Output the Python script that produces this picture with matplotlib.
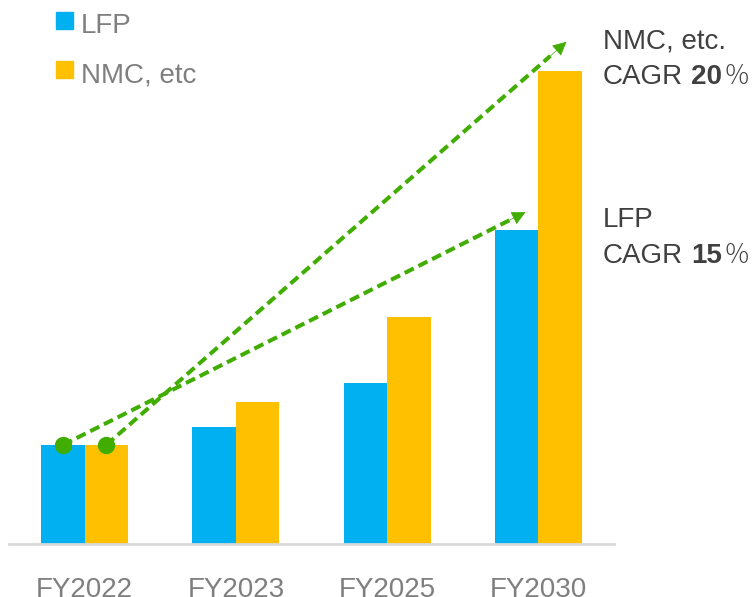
import matplotlib
matplotlib.use('Agg')
import matplotlib.pyplot as plt
from matplotlib.patches import Rectangle
import numpy as np

# -- Data (index, FY2022 = 100) --
years = ['FY2022', 'FY2023', 'FY2025', 'FY2030']
lfp = [100, 118, 163, 317]
nmc = [100, 143, 229, 478]
series_names = ['LFP', 'NMC, etc']
cagr_lfp = '15'
cagr_nmc = '20'

# arrow end points (category position, index value)
lfp_arrow_end = (2.915, 335)
nmc_arrow_end = (3.186, 507)

# -- Styling --
BLUE = '#00B0F0'
ORANGE = '#FFC000'
GREEN = '#40AD00'
GRAY = '#7F7F7F'
DARK = '#404040'
BASE = '#D9D9D9'

plt.rcParams['font.family'] = ['Liberation Sans', 'DejaVu Sans']

fig = plt.figure(figsize=(7.56, 5.97), dpi=100)
ax = fig.add_axes([9 / 756, 53 / 597, 605 / 756, 524 / 597])

x = np.arange(len(years))
w = 0.287
ax.bar(x - w / 2, lfp, w, color=BLUE, zorder=2)
ax.bar(x + w / 2, nmc, w, color=ORANGE, zorder=2)

ax.set_xlim(-0.5, 3.5)
ax.set_ylim(0, 529)
ax.set_xticks(x)
ax.set_xticklabels(years, fontsize=20, color=GRAY)
ax.tick_params(axis='x', length=0, pad=23.5)
ax.set_yticks([])
for s in ['top', 'right', 'left']:
    ax.spines[s].set_visible(False)
ax.spines['bottom'].set_color(BASE)
ax.spines['bottom'].set_linewidth(2)


def growth_arrow(x0, y0, end):
    x1, y1 = end
    back = (x1 - 0.035 * (x1 - x0), y1 - 0.035 * (y1 - y0))
    ax.plot([x0, back[0]], [y0, back[1]], color=GREEN, lw=2.9,
            ls=(0, (2.5, 1.3)), zorder=4, solid_capstyle='butt')
    ax.annotate('', xy=end, xytext=back,
                arrowprops=dict(arrowstyle='-|>', color=GREEN, lw=0.5,
                                mutation_scale=22, shrinkA=0, shrinkB=0),
                zorder=5)
    ax.plot([x0], [y0], 'o', color=GREEN, markersize=11.5, zorder=6)


growth_arrow(x[0] - w / 2, lfp[0], lfp_arrow_end)
growth_arrow(x[0] + w / 2, nmc[0], nmc_arrow_end)

# Legend (manual)
for i, (name, col) in enumerate(zip(series_names, [BLUE, ORANGE])):
    ytop = 12 + i * 49
    fig.patches.append(Rectangle((56, 597 - ytop - 17), 17, 17,
                                 transform=None, color=col))
    fig.text(81 / 756, 1 - (ytop + 21) / 597, name, fontsize=20,
             color=GRAY, va='baseline', ha='left')


def cagr_label(title, val, ytitle, ycagr):
    fig.text(603 / 756, 1 - ytitle / 597, title, fontsize=20, color=DARK,
             va='center', ha='left')
    t = fig.text(603 / 756, 1 - ycagr / 597, 'CAGR', fontsize=20,
                 color=DARK, va='center', ha='left')
    t2 = ax.annotate(val, xy=(1, 0), xycoords=t, xytext=(6, 0),
                     textcoords='offset points', fontsize=20,
                     fontweight='bold', color=DARK, va='bottom',
                     annotation_clip=False)
    ax.annotate('％', xy=(1, 0), xycoords=t2, xytext=(1, 0),
                textcoords='offset points', fontsize=19, color=DARK,
                va='bottom', family=['Noto Sans CJK JP'], fontweight='light',
                annotation_clip=False)


cagr_label('NMC, etc.', cagr_nmc, 42, 77)
cagr_label('LFP', cagr_lfp, 220, 256)

fig.savefig('out.png', dpi=100)
